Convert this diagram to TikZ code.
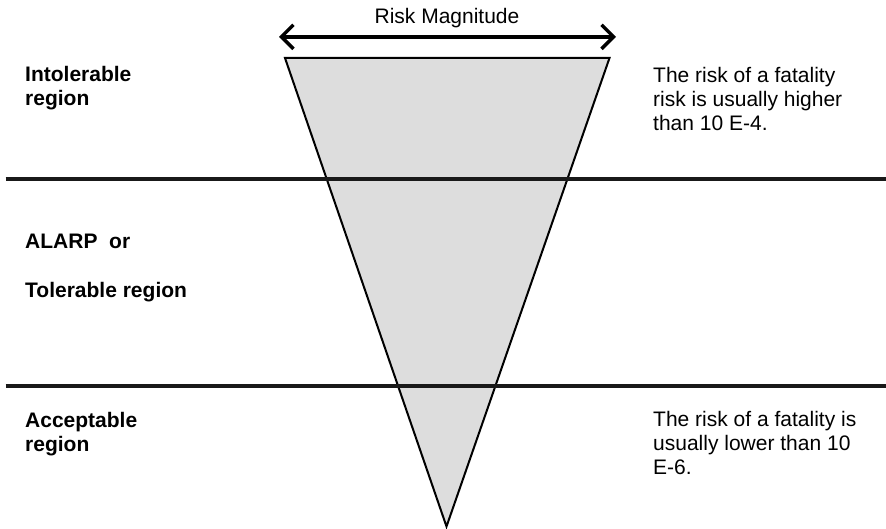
\documentclass[tikz,border=0pt]{standalone}
\usepackage{fontspec}
\setmainfont{Liberation Sans}
\usetikzlibrary{arrows.meta}
\definecolor{conefill}{HTML}{DDDDDD}
% multi-line labels are placed by the baseline of their last line
\tikzset{
  regionlabel/.style={anchor=base west, inner sep=0pt, align=left,
    font=\fontsize{21}{24}\selectfont\bfseries},
  note/.style={anchor=base west, inner sep=0pt, align=left,
    font=\fontsize{21}{24}\selectfont},
  divider/.style={line width=4pt, black!90},
  cone/.style={draw=black, line width=2pt, fill=conefill, line join=miter},
  magnitude/.style={line width=3.5pt, {Straight Barb[length=12pt,width=24pt,line width=3.5pt]}-{Straight Barb[length=12pt,width=24pt,line width=3.5pt]}}
}
\begin{document}
\begin{tikzpicture}[x=1pt,y=-1pt]
  \useasboundingbox (0,0) rectangle (886,529);

  % inverted risk cone
  \coordinate (tl) at (285,58);
  \coordinate (tr) at (609.5,58);
  \coordinate (apex) at (446.5,526.5);
  \draw[cone] (tl) -- (tr) -- (apex) -- cycle;

  % region boundaries
  \coordinate (d1w) at (5.5,178.7);
  \coordinate (d1e) at (886,178.7);
  \coordinate (d2w) at (5.5,386);
  \coordinate (d2e) at (886,386);
  \draw[divider] (d1w) -- (d1e);
  \draw[divider] (d2w) -- (d2e);

  % risk magnitude arrow
  \coordinate (ml) at (279,36.8);
  \coordinate (mr) at (616,36.8);
  \draw[magnitude] (ml) -- (mr);
  \node[note, anchor=base] (mag) at (447,23.3) {Risk Magnitude};

  % region names
  \node[regionlabel] (intol) at (25,105.8) {Intolerable\\region};
  \node[regionlabel] (alarp) at (25,248.3) {ALARP\ \ or};
  \node[regionlabel] (toler) at (25,297.7) {Tolerable region};
  \node[regionlabel] (accept) at (25,451.7) {Acceptable\\region};

  % risk notes
  \node[note] (high) at (653,130.5) {The risk of a fatality\\risk is usually higher\\than 10 E-4.};
  \node[note] (low) at (653,474.5) {The risk of a fatality is\\usually lower than 10\\E-6.};
\end{tikzpicture}
\end{document}
